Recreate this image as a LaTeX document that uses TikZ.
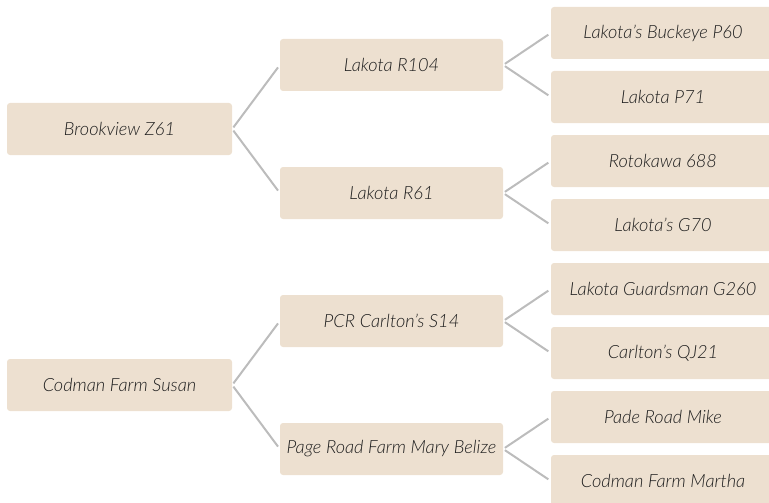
\documentclass[tikz,border=0pt]{standalone}
\usepackage{fontspec}
\setmainfont{Lato Light}[ItalicFont={Lato Light Italic}]
\definecolor{boxfill}{RGB}{237,224,208}
\definecolor{txt}{RGB}{30,30,30}
\definecolor{linkc}{RGB}{188,188,188}
\begin{document}
\begin{tikzpicture}[x=1pt,y=-1pt,
  box/.style={fill=boxfill,rounded corners=3pt,minimum height=52pt,inner sep=0pt,
    font=\fontsize{18.2}{21}\selectfont\itshape,text=txt},
  rootbox/.style={box,minimum width=225pt},
  midbox/.style={box,minimum width=223pt},
  leafbox/.style={box,minimum width=224pt},
  link/.style={draw=linkc,line width=2pt,shorten <=2pt,shorten >=3pt}]
\useasboundingbox (0,0) rectangle (769,503);
\node[rootbox] (r1) at (119.5,129) {Brookview Z61};
\node[rootbox] (r2) at (119.5,385) {Codman Farm Susan};
\node[midbox] (m1) at (391.5,65) {Lakota R104};
\node[midbox] (m2) at (391.5,193) {Lakota R61};
\node[midbox] (m3) at (391.5,321) {PCR Carlton's S14};
\node[midbox] (m4) at (391.5,449) {Page Road Farm Mary Belize};
\node[leafbox] (l1) at (663,33) {Lakota's Buckeye P60};
\node[leafbox] (l2) at (663,97) {Lakota P71};
\node[leafbox] (l3) at (663,161) {Rotokawa 688};
\node[leafbox] (l4) at (663,225) {Lakota's G70};
\node[leafbox] (l5) at (663,289) {Lakota Guardsman G260};
\node[leafbox] (l6) at (663,353) {Carlton's QJ21};
\node[leafbox] (l7) at (663,417) {Pade Road Mike};
\node[leafbox] (l8) at (663,481) {Codman Farm Martha};
\draw[link] (r1.east) -- (m1.west);
\draw[link] (r1.east) -- (m2.west);
\draw[link] (r2.east) -- (m3.west);
\draw[link] (r2.east) -- (m4.west);
\draw[link] (m1.east) -- (l1.west);
\draw[link] (m1.east) -- (l2.west);
\draw[link] (m2.east) -- (l3.west);
\draw[link] (m2.east) -- (l4.west);
\draw[link] (m3.east) -- (l5.west);
\draw[link] (m3.east) -- (l6.west);
\draw[link] (m4.east) -- (l7.west);
\draw[link] (m4.east) -- (l8.west);
\end{tikzpicture}
\end{document}
